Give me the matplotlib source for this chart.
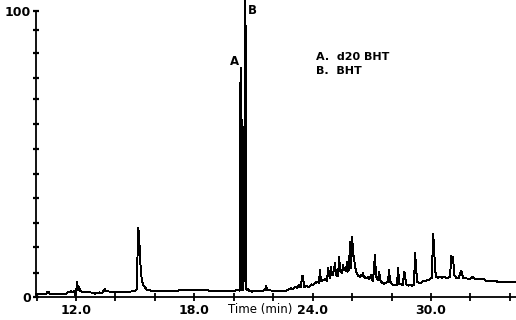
import matplotlib
matplotlib.use('Agg')
import matplotlib.pyplot as plt

# Chromatogram trace (time in minutes, relative abundance in %)
time_min = [
    9.97, 10.48, 10.53, 10.63, 10.68, 11.19, 11.49, 11.59, 11.75, 11.85, 11.90, 11.95,
    12.00, 12.05, 12.10, 12.15, 12.20, 12.30, 12.71, 12.91, 12.96, 13.12, 13.17, 13.27,
    13.32, 13.42, 13.47, 13.52, 13.72, 14.23, 14.74, 14.99, 15.04, 15.09, 15.14, 15.19,
    15.25, 15.30, 15.35, 15.42, 15.60, 15.85, 16.26, 16.77, 17.27, 17.58, 18.29, 18.69,
    18.80, 19.30, 19.76, 20.06, 20.21, 20.29, 20.33, 20.38, 20.43, 20.49, 20.54, 20.59,
    20.64, 20.71, 20.77, 20.92, 21.13, 21.48, 21.58, 21.64, 21.69, 21.84, 22.14,
    22.65, 22.75, 22.90, 23.00, 23.11, 23.21, 23.31, 23.36, 23.41, 23.46, 23.51, 23.56,
    23.71, 23.82, 23.92, 24.02, 24.12, 24.22, 24.32, 24.37, 24.42, 24.53, 24.63, 24.73,
    24.78, 24.83, 24.88, 24.93, 24.98, 25.03, 25.13, 25.18, 25.24, 25.29, 25.34, 25.39,
    25.44, 25.49, 25.54, 25.59, 25.64, 25.69, 25.74, 25.79, 25.84, 25.89, 25.95, 26.00,
    26.05, 26.10, 26.15, 26.20, 26.30, 26.40, 26.45, 26.50, 26.55, 26.60, 26.71, 26.81,
    26.86, 26.96, 27.01, 27.06, 27.16, 27.21, 27.26, 27.31, 27.37, 27.42, 27.52, 27.62,
    27.72, 27.82, 27.87, 27.92, 28.02, 28.13, 28.23, 28.28, 28.33, 28.38, 28.48, 28.58,
    28.63, 28.68, 28.73, 28.84, 28.94, 29.04, 29.14, 29.19, 29.24, 29.29, 29.39, 29.49,
    29.60, 29.70, 29.80, 29.90, 30.00, 30.05, 30.10, 30.15, 30.20, 30.26, 30.36, 30.46,
    30.56, 30.66, 30.76, 30.86, 30.97, 31.02, 31.07, 31.12, 31.17, 31.27, 31.42, 31.47,
    31.52, 31.57, 31.62, 31.78, 31.93, 32.03, 32.13, 32.18, 32.28, 32.49, 32.69, 32.79,
    32.99, 33.30, 33.40, 33.70, 34.01, 34.31,
]
abundance = [
    1.0, 1.0, 1.7, 1.7, 1.0, 1.0, 1.1, 1.6, 2.0, 1.8, 2.2, 0.8,
    1.2, 5.4, 2.4, 3.6, 2.2, 1.9, 1.6, 1.5, 1.2, 1.3, 1.6, 1.3,
    1.4, 2.4, 2.8, 2.0, 1.9, 1.9, 1.9, 2.0, 2.5, 2.8, 24.0, 22.5,
    13.3, 8.0, 5.5, 4.0, 2.5, 2.2, 2.0, 2.1, 2.3, 2.5, 2.4, 2.4,
    2.1, 2.1, 2.0, 2.2, 2.6, 2.2, 74.0, 80.0, 2.4, 2.3, 57.8, 103.8,
    2.5, 2.7, 2.2, 1.9, 2.1, 2.2, 2.4, 3.8, 2.4, 2.3, 2.1,
    2.2, 2.6, 3.0, 2.8, 3.6, 3.2, 4.2, 3.4, 3.6, 7.3, 7.3, 3.6,
    3.8, 3.5, 4.4, 4.2, 4.8, 5.4, 5.0, 9.4, 5.6, 5.9, 6.2, 5.6,
    10.0, 8.0, 6.5, 10.6, 7.5, 7.7, 11.8, 8.0, 7.2, 7.7, 14.1, 9.0,
    8.9, 8.5, 11.2, 9.5, 10.0, 9.0, 12.3, 8.9, 9.5, 19.3, 10.0, 21.1,
    15.0, 13.5, 10.5, 8.9, 7.5, 7.0, 7.8, 7.2, 8.4, 7.0, 6.6, 7.0,
    6.2, 7.7, 6.0, 5.6, 14.7, 7.0, 6.6, 6.0, 8.9, 6.0, 4.9, 4.6,
    5.0, 5.2, 9.4, 5.5, 4.5, 4.2, 4.2, 4.2, 10.3, 4.6, 4.4, 4.3,
    8.9, 8.0, 4.5, 4.0, 4.2, 4.0, 4.3, 15.3, 11.2, 5.2, 5.0, 5.0,
    5.6, 5.6, 5.8, 6.0, 6.6, 6.8, 21.9, 18.8, 10.1, 7.0, 6.8, 7.0,
    6.8, 7.0, 6.8, 6.8, 6.9, 14.4, 12.0, 14.1, 7.7, 6.8, 6.8, 8.0,
    9.1, 8.5, 6.6, 6.5, 6.4, 6.5, 7.1, 6.5, 6.3, 6.2, 6.2, 5.6,
    5.7, 5.6, 5.2, 5.3, 5.1, 5.2,
]

x_ticks = [10, 12, 14, 16, 18, 20, 22, 24, 26, 28, 30, 32, 34]
x_labeled = [12, 18, 24, 30]
y_ticks = [0, 8.4, 17.5, 25.9, 34.6, 43.0, 51.7, 60.5, 69.2, 76.6, 85.3, 93.4, 100]
y_labeled = [0, 100]
peak_labels = ['A', 'B']
peak_label_pos = [(20.06, 82.5), (20.92, 100.0)]
legend_lines = ['A.  d20 BHT', 'B.  BHT']

fig = plt.figure(figsize=(5.16, 3.2), dpi=100)
ax = fig.add_axes([36 / 516, 23 / 320, 480 / 516, 286 / 320])
ax.plot(time_min, abundance, color='black', lw=0.7, clip_on=False, antialiased=False)
ax.set_xlim(9.97, 34.31)
ax.set_ylim(0, 100)
for s in ['top', 'right']:
    ax.spines[s].set_visible(False)
for s in ['left', 'bottom']:
    ax.spines[s].set_linewidth(1.3)

font = dict(family='DejaVu Sans', weight='bold', size=9)
ax.set_xticks(x_ticks)
ax.set_xticklabels([f'{t:.1f}' if t in x_labeled else '' for t in x_ticks], fontdict=font)
ax.set_yticks(y_ticks)
ax.set_yticklabels([f'{v:g}' if v in y_labeled else '' for v in y_ticks], fontdict=font)
ax.tick_params(axis='x', direction='inout', length=6, width=1.3, pad=2)
ax.tick_params(axis='y', direction='inout', length=5, width=1.6, pad=1)

ax.text(21.33, -0.045, 'Time (min)', transform=ax.get_xaxis_transform(),
        ha='center', va='center', family='DejaVu Sans', size=8.5)

for lab, (tx, ty) in zip(peak_labels, peak_label_pos):
    ax.text(tx, ty, lab, ha='center', va='center', family='DejaVu Sans',
            weight='bold', size=8.5, clip_on=False)

for i, line in enumerate(legend_lines):
    fig.text(316 / 516, 1 - (57 + 14 * i) / 320, line, ha='left', va='center',
             family='DejaVu Sans', weight='bold', size=8)

fig.savefig('out.png', dpi=100)
